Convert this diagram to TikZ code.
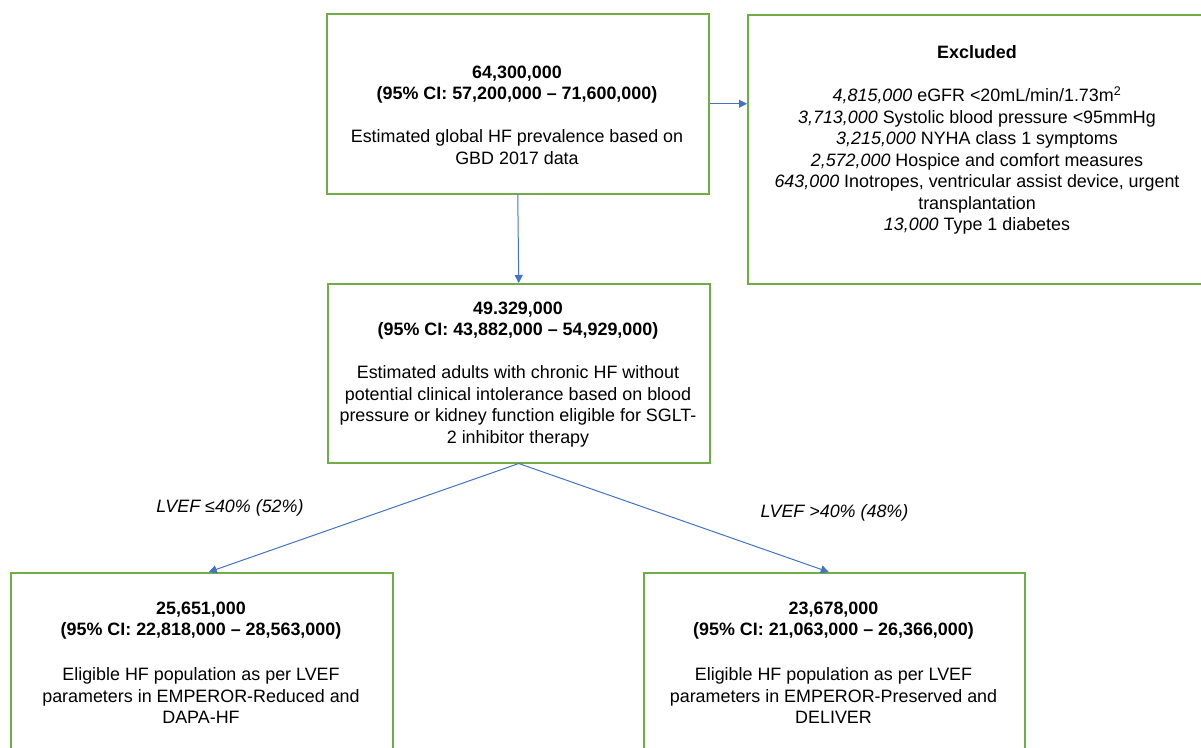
\documentclass[tikz,border=0pt]{standalone}
\usepackage{fontspec}
\setmainfont{Liberation Sans}
\usetikzlibrary{arrows.meta}
\definecolor{boxgreen}{RGB}{112,173,71}
\definecolor{arrowblue}{RGB}{68,114,196}
\begin{document}
\begin{tikzpicture}[x=1pt,y=-1pt,
  box/.style={draw=boxgreen,line width=1.5pt,inner sep=0pt,anchor=north west},
  txt/.style={align=center,inner sep=0pt,anchor=north,font=\fontsize{17.9}{21.5}\selectfont},
  lab/.style={inner sep=0pt,font=\fontsize{17.9}{21.5}\selectfont\itshape},
  conn/.style={draw=arrowblue,line width=1pt,-{Triangle[length=8pt,width=8pt]}}]
\useasboundingbox (0,0) rectangle (1201,747);
\fill[white] (0,0) rectangle (1201,747);
% boxes
\node[box,minimum width=382pt,minimum height=180pt] (top) at (326,13) {};
\node[box,minimum width=470pt,minimum height=269pt] (excl) at (747,14) {};
\node[box,minimum width=382pt,minimum height=179pt] (mid) at (327,283) {};
\node[box,minimum width=382pt,minimum height=200pt] (bl) at (10,572) {};
\node[box,minimum width=381pt,minimum height=200pt] (br) at (643,572) {};
% texts
\node[txt] (toptxt) at (517,65.5) {\textbf{64,300,000}\\ \textbf{(95\% CI: 57,200,000 – 71,600,000)}\\[21.5pt] Estimated global HF prevalence based on\\ GBD 2017 data};
\node[txt] (excltxt) at (977,45.5) {\textbf{Excluded}\\[21.5pt] \textit{4,815,000} eGFR <20mL/min/1.73m\textsuperscript{2}\\ \textit{3,713,000} Systolic blood pressure <95mmHg\\ \textit{3,215,000} NYHA class 1 symptoms\\ \textit{2,572,000} Hospice and comfort measures\\ \textit{643,000} Inotropes, ventricular assist device, urgent\\ transplantation\\ \textit{13,000} Type 1 diabetes};
\node[txt] (midtxt) at (518,301.5) {\textbf{49.329,000}\\ \textbf{(95\% CI: 43,882,000 – 54,929,000)}\\[21.5pt] Estimated adults with chronic HF without\\ potential clinical intolerance based on blood\\ pressure or kidney function eligible for SGLT-\\ 2 inhibitor therapy};
\node[txt] (bltxt) at (201,601.5) {\textbf{25,651,000}\\ \textbf{(95\% CI: 22,818,000 – 28,563,000)}\\[23.5pt] Eligible HF population as per LVEF\\ parameters in EMPEROR-Reduced and\\ DAPA-HF};
\node[txt] (brtxt) at (833.5,601.5) {\textbf{23,678,000}\\ \textbf{(95\% CI: 21,063,000 – 26,366,000)}\\[23.5pt] Eligible HF population as per LVEF\\ parameters in EMPEROR-Preserved and\\ DELIVER};
% labels
\node[lab] (lab1) at (230,508) {LVEF ≤40\% (52\%)};
\node[lab] (lab2) at (834.5,513) {LVEF >40\% (48\%)};
% connectors
\draw[conn] (top.south) -- (mid.north);
\draw[conn] (top.east) -- (excl.west |- top.east);
\draw[conn] (mid.south) -- ([xshift=7pt]bl.north);
\draw[conn] (mid.south) -- ([xshift=-5.5pt]br.north);
\end{tikzpicture}
\end{document}
